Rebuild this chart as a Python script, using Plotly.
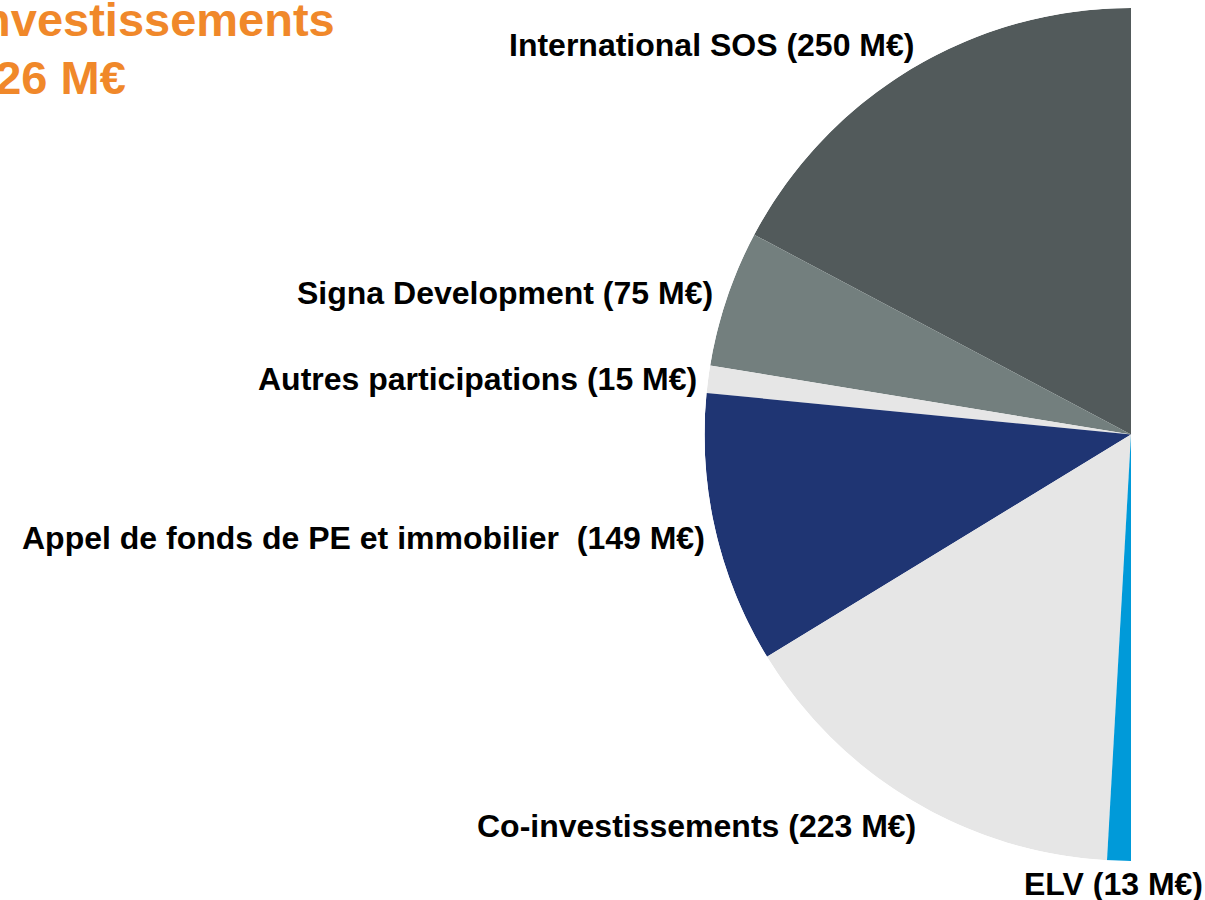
import plotly.graph_objects as go

categories = ["International SOS", "Signa Development", "Autres participations",
              "Appel de fonds de PE et immobilier", "Co-investissements", "ELV"]
values = [250, 75, 15, 149, 223, 13]
labels = ["International SOS (250 M€)", "Signa Development (75 M€)",
          "Autres participations (15 M€)",
          "Appel de fonds de PE et immobilier\u00a0 (149 M€)",
          "Co-investissements (223 M€)", "ELV (13 M€)"]
colors = ["#525a5b", "#737f7e", "#e6e6e6", "#1f3573", "#e6e6e6", "#009ad9"]
title_lines = ["Investissements", "726 M€"]

total = sum(values)
widths = [v * 180.0 / total for v in values]
centers = []
acc = 0.0
for w in widths:
    centers.append(acc + w / 2)
    acc += w

fig = go.Figure()
fig.add_trace(go.Barpolar(
    r=[1] * len(values), theta=centers, width=widths,
    marker=dict(color=colors, line=dict(width=0)),
    hoverinfo="skip", showlegend=False,
))

W, H = 1205, 900
cx, cy, R = 1131, 434.5, 426.5

fig.update_layout(
    width=W, height=H,
    margin=dict(l=0, r=0, t=0, b=0),
    paper_bgcolor="white", plot_bgcolor="white",
    polar=dict(
        domain=dict(x=[(cx - R) / W, cx / W], y=[1 - (cy + R) / H, 1 - (cy - R) / H]),
        sector=[90, 270], hole=0, bargap=0,
        bgcolor="rgba(0,0,0,0)",
        radialaxis=dict(visible=False, range=[0, 1]),
        angularaxis=dict(visible=False, rotation=90, direction="counterclockwise"),
    ),
)

font = dict(family="Liberation Sans, Arial, sans-serif", size=32, color="black", weight="bold")
label_pos = [(916, 45), (715, 293), (699, 379), (707, 538), (918, 826), (1205, 884)]
for txt, (rx, ly) in zip(labels, label_pos):
    fig.add_annotation(x=rx / W, y=1 - ly / H, xref="paper", yref="paper",
                       text=txt, showarrow=False, xanchor="right", yanchor="middle",
                       font=font)

title_font = dict(family="Liberation Sans, Arial, sans-serif", size=47,
                  color="#f0882a", weight="bold")
for txt, top in zip(title_lines, [-9, 49]):
    fig.add_annotation(x=-33 / W, y=1 - top / H, xref="paper", yref="paper",
                       text=txt, showarrow=False,
                       xanchor="left", yanchor="top", align="left",
                       font=title_font)

fig.write_html("out.html", config={"displayModeBar": False},
               post_script="document.body.style.margin='0';")
